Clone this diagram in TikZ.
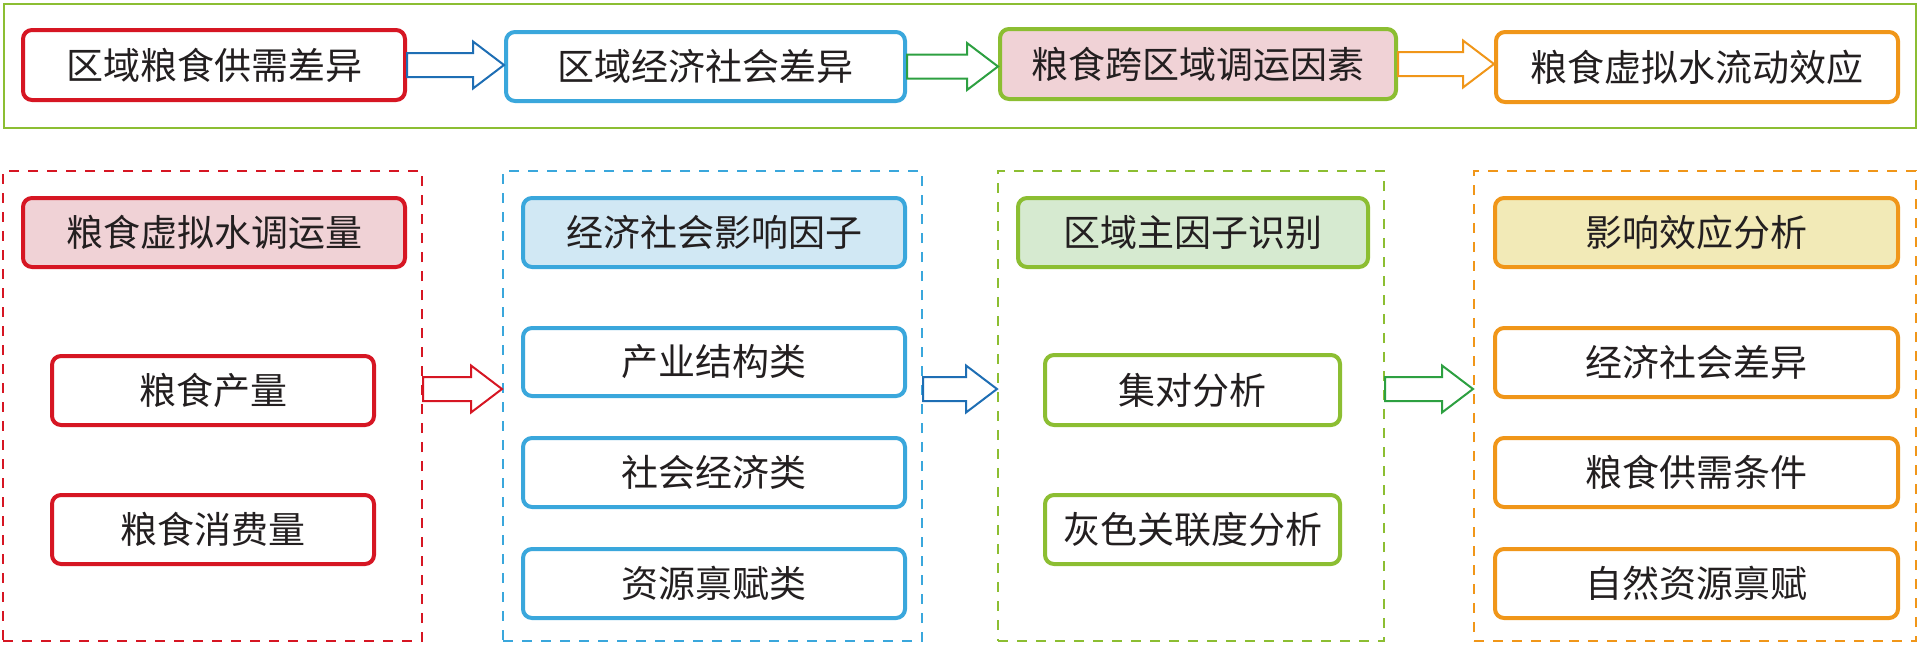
\documentclass[tikz,border=0pt]{standalone}
\usepackage{fontspec}
\newfontfamily\cjk{Noto Sans CJK SC}
\usetikzlibrary{calc}
\definecolor{cred}{RGB}{214,22,35}
\definecolor{cblue}{RGB}{58,167,220}
\definecolor{cablue}{RGB}{30,110,180}
\definecolor{cygreen}{RGB}{140,190,50}
\definecolor{cagreen}{RGB}{45,160,65}
\definecolor{corange}{RGB}{240,150,25}
\definecolor{fpink}{RGB}{240,210,214}
\definecolor{fblue}{RGB}{209,232,244}
\definecolor{fgreen}{RGB}{214,234,208}
\definecolor{fyellow}{RGB}{242,234,183}
\definecolor{ctext}{RGB}{35,31,32}
\tikzset{
  box/.style={rectangle, rounded corners=9pt, line width=4pt, inner sep=0pt,
    text=ctext, font=\cjk\fontsize{37}{42}\selectfont, fill=white},
  group/.style={rectangle, line width=2pt, dash pattern=on 10pt off 9pt, inner sep=0pt},
  arrowline/.style={line width=2pt, line join=miter, fill=white},
}
\newcommand\blockarr[3]{%
  \draw[arrowline,draw=#3] let \p1=(#1), \p2=(#2) in
   (\x1,\y1+12pt) -- (\x2-31pt,\y1+12pt) -- (\x2-31pt,\y1+23.5pt) -- (\x2,\y1)
   -- (\x2-31pt,\y1-23.5pt) -- (\x2-31pt,\y1-12pt) -- (\x1,\y1-12pt) -- cycle;}
\begin{document}
\begin{tikzpicture}[x=1pt,y=-1pt]
\useasboundingbox (0,0) rectangle (1921,646);
% top frame
\node[rectangle, draw=cygreen, line width=2pt, minimum width=1912pt, minimum height=124pt, inner sep=0pt] (top) at (960,66) {};
% top row
\node[box, draw=cred, minimum width=382pt, minimum height=70pt] (b1) at (214,65) {区域粮食供需差异};
\node[box, draw=cblue, minimum width=399pt, minimum height=69pt] (b2) at (705.5,66.5) {区域经济社会差异};
\node[box, draw=cygreen, fill=fpink, minimum width=396pt, minimum height=70pt] (b3) at (1198,64) {粮食跨区域调运因素};
\node[box, draw=corange, minimum width=402pt, minimum height=70pt] (b4) at (1697,67) {粮食虚拟水流动效应};
\blockarr{b1.east}{b2.west}{cablue}
\blockarr{b2.east}{b3.west}{cagreen}
\blockarr{b3.east}{b4.west}{corange}
% groups
\node[group, draw=cred, minimum width=419pt, minimum height=470pt] (c1) at (212.5,406) {};
\node[group, draw=cblue, minimum width=419pt, minimum height=470pt] (c2) at (712.5,406) {};
\node[group, draw=cygreen, minimum width=386pt, minimum height=470pt] (c3) at (1191,406) {};
\node[group, draw=corange, minimum width=442pt, minimum height=470pt] (c4) at (1695,406) {};
% group 1
\node[box, draw=cred, fill=fpink, minimum width=382pt, minimum height=69pt] (h1) at (214,232.5) {粮食虚拟水调运量};
\node[box, draw=cred, minimum width=322pt, minimum height=69pt] (p1) at (213,390.5) {粮食产量};
\node[box, draw=cred, minimum width=322pt, minimum height=69pt] (p2) at (213,529.5) {粮食消费量};
% group 2
\node[box, draw=cblue, fill=fblue, minimum width=382pt, minimum height=69pt] (h2) at (714,232.5) {经济社会影响因子};
\node[box, draw=cblue, minimum width=382pt, minimum height=68pt] (q1) at (714,362) {产业结构类};
\node[box, draw=cblue, minimum width=382pt, minimum height=69pt] (q2) at (714,472.5) {社会经济类};
\node[box, draw=cblue, minimum width=382pt, minimum height=69pt] (q3) at (714,583.5) {资源禀赋类};
% group 3
\node[box, draw=cygreen, fill=fgreen, minimum width=350pt, minimum height=69pt] (h3) at (1193,232.5) {区域主因子识别};
\node[box, draw=cygreen, minimum width=295pt, minimum height=70pt] (r1) at (1192.5,390) {集对分析};
\node[box, draw=cygreen, minimum width=295pt, minimum height=69pt] (r2) at (1192.5,529.5) {灰色关联度分析};
% group 4
\node[box, draw=corange, fill=fyellow, minimum width=403pt, minimum height=69pt] (h4) at (1696.5,232.5) {影响效应分析};
\node[box, draw=corange, minimum width=403pt, minimum height=69pt] (s1) at (1696.5,362.5) {经济社会差异};
\node[box, draw=corange, minimum width=403pt, minimum height=69pt] (s2) at (1696.5,472.5) {粮食供需条件};
\node[box, draw=corange, minimum width=403pt, minimum height=69pt] (s3) at (1696.5,583.5) {自然资源禀赋};
% bottom arrows
\coordinate (ay) at (0,389);
\blockarr{c1.east |- ay}{c2.west |- ay}{cred}
\blockarr{c2.east |- ay}{c3.west |- ay}{cablue}
\blockarr{c3.east |- ay}{c4.west |- ay}{cagreen}
\end{tikzpicture}
\end{document}
